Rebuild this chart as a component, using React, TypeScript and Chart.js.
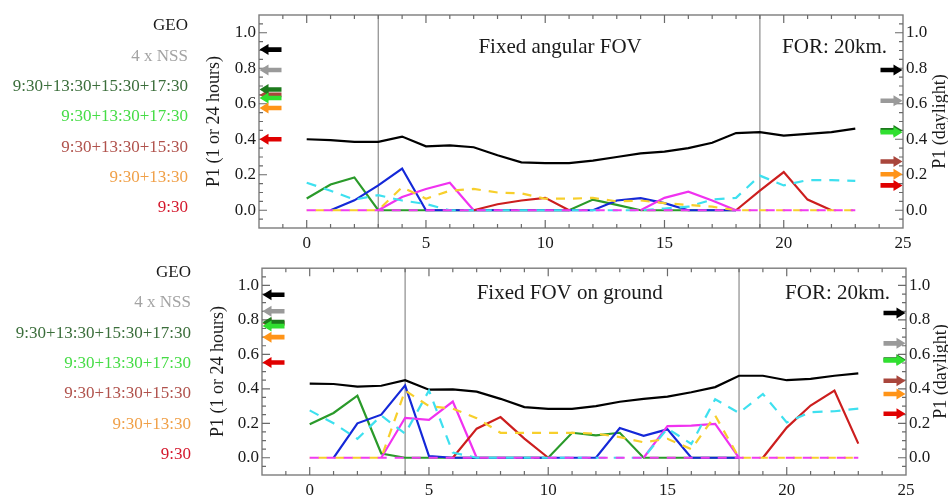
import React, { useEffect, useRef } from "react";
import { Chart, registerables } from "chart.js";

Chart.register(...registerables);

// ---------------- data ----------------
const hours = [0, 1, 2, 3, 4, 5, 6, 7, 8, 9, 10, 11, 12, 13, 14, 15, 16, 17, 18, 19, 20, 21, 22, 23];
const xTickValues = [0, 5, 10, 15, 20, 25];
const yTickValues = [0, 0.2, 0.4, 0.6, 0.8, 1.0];

const legendLabels = [
  "GEO",
  "4 x NSS",
  "9:30+13:30+15:30+17:30",
  "9:30+13:30+17:30",
  "9:30+13:30+15:30",
  "9:30+13:30",
  "9:30",
];
const legendTextColors = ["#1a1a1a", "#a3a3a3", "#3b6e3b", "#46dc46", "#b0524c", "#f0a048", "#d4182c"];
const arrowColors = ["#000000", "#9a9a9a", "#1c7a1c", "#30e030", "#a9463c", "#ff9418", "#e00000"];

// top panel (Fixed angular FOV)
const topTotal = [0.40, 0.395, 0.385, 0.385, 0.415, 0.36, 0.365, 0.355, 0.31, 0.27, 0.265, 0.265, 0.28, 0.30, 0.32, 0.33, 0.35, 0.38, 0.435, 0.44, 0.42, 0.43, 0.44, 0.46];
const topGreen = [0.066, 0.145, 0.185, 0, 0, 0, 0, 0, 0, 0, 0, 0, 0.06, 0.03, 0, 0, 0, 0, 0, null, null, null, null, null];
const topBlue = [null, 0, 0.056, 0.14, 0.235, 0, 0, 0, 0, 0, 0, 0, 0, 0.055, 0.068, 0.04, 0, 0, 0, null, null, null, null, null];
const topMagenta = [null, null, null, 0, 0.075, 0.12, 0.155, 0, null, null, null, null, null, null, 0, 0.07, 0.105, 0.055, 0, null, null, null, null, null];
const topRed = [null, null, null, null, null, null, null, 0, 0.034, 0.055, 0.07, 0, null, null, null, null, null, null, 0, 0.11, 0.215, 0.06, 0, null];
const topYellow = [0, 0, 0, 0, 0.13, 0.065, 0.11, 0.12, 0.1, 0.095, 0.065, 0.065, 0.07, 0.05, 0.055, 0.04, 0.03, 0.02, 0, 0, 0, 0, 0, 0];
const topCyan = [0.155, 0.11, 0.06, 0.085, 0.055, 0.035, 0, 0, 0, 0, 0, 0, 0, 0, 0, 0.01, 0.02, 0.06, 0.07, 0.195, 0.14, 0.17, 0.17, 0.165];
const topBaseline = [0, 0, 0, 0, 0, 0, 0, 0, 0, 0, 0, 0, 0, 0, 0, 0, 0, 0, 0, 0, 0, 0, 0, 0];
// arrows, in legend order
const topLeftArrows = [0.905, 0.79, 0.68, 0.632, 0.65, 0.576, 0.40];
const topRightArrows = [0.79, 0.617, 0.45, 0.44, 0.275, 0.203, 0.14];
const topMarkers = [3, 19];

// bottom panel (Fixed FOV on ground)
const botTotal = [0.43, 0.428, 0.413, 0.418, 0.45, 0.395, 0.397, 0.384, 0.342, 0.294, 0.284, 0.284, 0.30, 0.325, 0.342, 0.355, 0.38, 0.41, 0.476, 0.476, 0.45, 0.458, 0.476, 0.49];
const botGreen = [0.194, 0.26, 0.36, 0.025, 0, 0, 0, 0, 0, 0, 0, 0.145, 0.13, 0.145, 0, 0, 0, 0, 0, null, null, null, null, null];
const botBlue = [null, 0, 0.20, 0.25, 0.42, 0.01, 0, 0, 0, 0, 0, 0, 0, 0.173, 0.127, 0.165, 0, 0, 0, null, null, null, null, null];
const botMagenta = [null, null, null, 0, 0.232, 0.22, 0.326, 0, null, null, null, null, null, null, 0, 0.184, 0.186, 0.197, 0, null, null, null, null, null];
const botRed = [null, null, null, null, null, null, 0, 0.169, 0.236, 0.111, 0, null, null, null, null, null, null, null, null, 0, 0.175, 0.303, 0.39, 0.082];
const botYellow = [0, 0, 0, 0, 0.39, 0.30, 0.285, 0.23, 0.145, 0.145, 0.145, 0.145, 0.14, 0.12, 0.09, 0.11, 0.05, 0.245, 0, 0, 0, 0, 0, 0];
const botCyan = [0.275, 0.2, 0.11, 0.245, 0.14, 0.39, 0.03, 0, 0, 0, 0, 0, 0, 0, 0, 0.17, 0.08, 0.34, 0.26, 0.37, 0.205, 0.265, 0.27, 0.285];
const botBaseline = [0, 0, 0, 0, 0, 0, 0, 0, 0, 0, 0, 0, 0, 0, 0, 0, 0, 0, 0, 0, 0, 0, 0, 0];
const botLeftArrows = [0.946, 0.85, 0.787, 0.764, 0.78, 0.70, 0.553];
const botRightArrows = [0.84, 0.664, 0.57, 0.565, 0.447, 0.37, 0.255];
const botMarkers = [4, 18];

const arrowDrawOrder = [0, 1, 4, 2, 3, 5, 6];
const SERIF = "'Liberation Serif', 'Times New Roman', serif";

type Panel = {
  total: (number | null)[];
  green: (number | null)[];
  blue: (number | null)[];
  magenta: (number | null)[];
  red: (number | null)[];
  yellow: (number | null)[];
  cyan: (number | null)[];
  baseline: (number | null)[];
  leftArrows: number[];
  rightArrows: number[];
  markers: number[];
  caption: string;
  captionX: number;
  captionDy: number;
  canvasTop: number;
  canvasHeight: number;
  padTop: number;
  yWidth: number;
  y2Width: number;
  xHeight: number;
  legendRight: number;
  legendY0: number;
  leftTitleX: number;
  rightTitleX: number;
};

const panels: Panel[] = [
  {
    total: topTotal, green: topGreen, blue: topBlue, magenta: topMagenta, red: topRed,
    yellow: topYellow, cyan: topCyan, baseline: topBaseline,
    leftArrows: topLeftArrows, rightArrows: topRightArrows, markers: topMarkers,
    caption: "Fixed angular FOV", captionX: 7.2, captionDy: 32,
    canvasTop: 0, canvasHeight: 255, padTop: 15, yWidth: 64, y2Width: 45, xHeight: 27,
    legendRight: 188, legendY0: 26, leftTitleX: 214, rightTitleX: 940,
  },
  {
    total: botTotal, green: botGreen, blue: botBlue, magenta: botMagenta, red: botRed,
    yellow: botYellow, cyan: botCyan, baseline: botBaseline,
    leftArrows: botLeftArrows, rightArrows: botRightArrows, markers: botMarkers,
    caption: "Fixed FOV on ground", captionX: 7.0, captionDy: 25,
    canvasTop: 255, canvasHeight: 240, padTop: 8, yWidth: 67, y2Width: 42, xHeight: 20,
    legendRight: 191, legendY0: 17.7, leftTitleX: 218, rightTitleX: 941,
  },
];

function pts(arr: (number | null)[]) {
  return hours.map((h, i) => ({ x: h, y: arr[i] }));
}

function drawArrow(ctx: CanvasRenderingContext2D, tipX: number, y: number, dir: number, color: string) {
  const len = 22, head = 9, hh = 5.5, sh = 2.3;
  ctx.fillStyle = color;
  ctx.beginPath();
  ctx.moveTo(tipX, y);
  ctx.lineTo(tipX - dir * head, y - hh);
  ctx.lineTo(tipX - dir * head, y - sh);
  ctx.lineTo(tipX - dir * len, y - sh);
  ctx.lineTo(tipX - dir * len, y + sh);
  ctx.lineTo(tipX - dir * head, y + sh);
  ctx.lineTo(tipX - dir * head, y + hh);
  ctx.closePath();
  ctx.fill();
}

function makeDeco(p: Panel) {
  return {
    id: "deco",
    beforeDatasetsDraw(chart: any) {
      const { ctx, chartArea: a, scales } = chart;
      ctx.save();
      ctx.strokeStyle = "#8c8c8c";
      ctx.lineWidth = 1.2;
      p.markers.forEach((v) => {
        const px = scales.x.getPixelForValue(v);
        ctx.beginPath();
        ctx.moveTo(px, a.top);
        ctx.lineTo(px, a.bottom);
        ctx.stroke();
      });
      ctx.restore();
    },
    afterDraw(chart: any) {
      const { ctx, chartArea: a, scales } = chart;
      const xs = scales.x;
      const ys = scales.y;
      ctx.save();
      // frame
      ctx.strokeStyle = "#7c7c7c";
      ctx.lineWidth = 1.4;
      ctx.strokeRect(a.left, a.top, a.right - a.left, a.bottom - a.top);
      // inward ticks
      ctx.lineWidth = 1.2;
      ctx.strokeStyle = "#6a6a6a";
      ctx.beginPath();
      for (let k = -1; k <= 24; k++) {
        const px = xs.getPixelForValue(k);
        const L = k % 5 === 0 ? 8 : 4;
        ctx.moveTo(px, a.bottom);
        ctx.lineTo(px, a.bottom - L);
        ctx.moveTo(px, a.top);
        ctx.lineTo(px, a.top + L);
      }
      for (let k = -1; k <= 21; k++) {
        const py = ys.getPixelForValue(k * 0.05);
        const L = k % 4 === 0 ? 8 : 4;
        ctx.moveTo(a.left, py);
        ctx.lineTo(a.left + L, py);
        ctx.moveTo(a.right, py);
        ctx.lineTo(a.right - L, py);
      }
      ctx.stroke();
      // arrows
      arrowDrawOrder.forEach((i) => {
        drawArrow(ctx, a.left + 0.5, ys.getPixelForValue(p.leftArrows[i]), -1, arrowColors[i]);
      });
      arrowDrawOrder.forEach((i) => {
        drawArrow(ctx, a.right - 0.5, ys.getPixelForValue(p.rightArrows[i]), 1, arrowColors[i]);
      });
      // captions
      ctx.fillStyle = "#1a1a1a";
      ctx.font = `21px ${SERIF}`;
      ctx.textAlign = "left";
      ctx.textBaseline = "middle";
      ctx.fillText(p.caption, xs.getPixelForValue(p.captionX), a.top + p.captionDy);
      ctx.fillText("FOR: 20km.", xs.getPixelForValue(19.93), a.top + p.captionDy);
      // axis titles
      const mid = (a.top + a.bottom) / 2;
      ctx.font = `18px ${SERIF}`;
      ctx.textAlign = "center";
      ctx.save();
      ctx.translate(p.leftTitleX, mid);
      ctx.rotate(-Math.PI / 2);
      ctx.fillText("P1 (1 or 24 hours)", 0, 0);
      ctx.restore();
      ctx.save();
      ctx.translate(p.rightTitleX, mid);
      ctx.rotate(-Math.PI / 2);
      ctx.fillText("P1 (daylight)", 0, 0);
      ctx.restore();
      // legend text
      ctx.font = `17px ${SERIF}`;
      ctx.textAlign = "right";
      legendLabels.forEach((t, i) => {
        ctx.fillStyle = legendTextColors[i];
        ctx.fillText(t, p.legendRight, p.legendY0 + i * 30.3);
      });
      ctx.restore();
    },
  };
}

function PanelChart({ p }: { p: Panel }) {
  const ref = useRef<HTMLCanvasElement | null>(null);
  useEffect(() => {
    if (!ref.current) return;
    const base = { borderWidth: 2.2, pointRadius: 0, tension: 0, fill: false, spanGaps: false };
    const datasets: any[] = [
      { label: "baseline", data: pts(p.baseline), borderColor: "#f03cf0", borderDash: [9, 8], borderDashOffset: 0 },
      { label: "dashed yellow", data: pts(p.yellow), borderColor: "#f7cf2c", borderDash: [9, 8], borderDashOffset: 8.5 },
      { label: "dashed cyan", data: pts(p.cyan), borderColor: "#3ee0ef", borderDash: [10, 8] },
      { label: "total", data: pts(p.total), borderColor: "#000000" },
      { label: "red", data: pts(p.red), borderColor: "#cc1e1e" },
      { label: "magenta", data: pts(p.magenta), borderColor: "#f032f0" },
      { label: "blue", data: pts(p.blue), borderColor: "#1428d8" },
      { label: "green", data: pts(p.green), borderColor: "#2a9a2a" },
    ].map((d) => ({ ...base, ...d }));

    const tickFont = { family: SERIF, size: 17 };
    const chart = new Chart(ref.current, {
      type: "line",
      data: { datasets },
      options: {
        animation: false,
        responsive: false,
        devicePixelRatio: 1,
        layout: { padding: { left: 195, top: p.padTop, right: 0, bottom: 0 } },
        plugins: { legend: { display: false }, tooltip: { enabled: false } },
        scales: {
          x: {
            type: "linear",
            position: "bottom",
            min: -2,
            max: 25,
            grid: { display: false, drawTicks: false },
            border: { display: false },
            afterBuildTicks: (s: any) => { s.ticks = xTickValues.map((v) => ({ value: v })); },
            afterFit: (s: any) => { s.height = p.xHeight; },
            ticks: { font: tickFont, color: "#1a1a1a", padding: 5, maxRotation: 0, autoSkip: false, callback: (v: any) => String(v) },
          },
          y: {
            type: "linear",
            position: "left",
            min: -0.1,
            max: 1.1,
            grid: { display: false, drawTicks: false },
            border: { display: false },
            afterBuildTicks: (s: any) => { s.ticks = yTickValues.map((v) => ({ value: v })); },
            afterFit: (s: any) => { s.width = p.yWidth; },
            ticks: { font: tickFont, color: "#1a1a1a", padding: 3, autoSkip: false, callback: (v: any) => Number(v).toFixed(1) },
          },
          y2: {
            type: "linear",
            position: "right",
            min: -0.1,
            max: 1.1,
            grid: { display: false, drawTicks: false },
            border: { display: false },
            afterBuildTicks: (s: any) => { s.ticks = yTickValues.map((v) => ({ value: v })); },
            afterFit: (s: any) => { s.width = p.y2Width; },
            ticks: { font: tickFont, color: "#1a1a1a", padding: 3, autoSkip: false, callback: (v: any) => Number(v).toFixed(1) },
          },
        },
      } as any,
      plugins: [makeDeco(p)],
    });
    return () => chart.destroy();
  }, [p]);
  return (
    <canvas
      ref={ref}
      width={948}
      height={p.canvasHeight}
      style={{ position: "absolute", left: 0, top: p.canvasTop, width: 948, height: p.canvasHeight, display: "block" }}
    />
  );
}

export default function App() {
  return (
    <div style={{ position: "absolute", left: 0, top: 0, width: 948, height: 495, overflow: "hidden", background: "#ffffff" }}>
      {panels.map((p, i) => (
        <PanelChart key={i} p={p} />
      ))}
    </div>
  );
}
